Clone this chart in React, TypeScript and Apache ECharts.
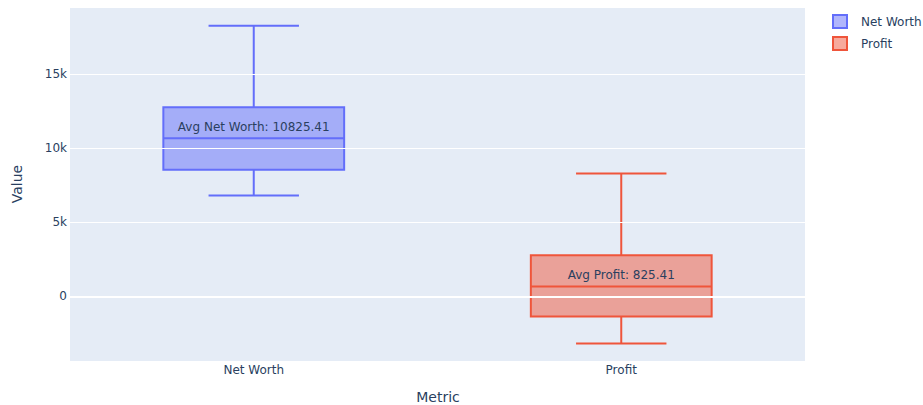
import React, { useEffect, useRef } from "react";
import * as echarts from "echarts";

const categories = ["Net Worth", "Profit"];
const lowerWhisker = [6800, -3190];
const q1 = [8550, -1370];
const median = [10665, 655];
const q3 = [12760, 2765];
const upperWhisker = [18270, 8285];
const means = [10825.41, 825.41];
const meanLabels = ["Avg Net Worth: 10825.41", "Avg Profit: 825.41"];
const yTicks = [0, 5000, 10000, 15000];
const yTickLabels = ["0", "5k", "10k", "15k"];
const lineColors = ["#636efa", "#EF553B"];
const fillColors = ["rgba(99,110,250,0.5)", "rgba(239,85,59,0.5)"];

const FONT = "'DejaVu Sans', Verdana, sans-serif";
const TXT = "#2a3f5f";

export default function App() {
  const ref = useRef<HTMLDivElement>(null);
  useEffect(() => {
    document.body.style.margin = "0";
    const chart = echarts.init(ref.current!, null, { renderer: "svg" });
    const boxSeries = categories.map((name, i) => ({
      type: "custom",
      name,
      z: 3,
      encode: { x: 0, y: [1, 2, 3, 4, 5] },
      itemStyle: { color: fillColors[i], borderColor: lineColors[i] },
      data: [[i, lowerWhisker[i], q1[i], median[i], q3[i], upperWhisker[i], means[i]]],
      renderItem: (params: any, api: any) => {
        const xi = api.value(0);
        const [cx, yLow] = api.coord([xi, api.value(1)]);
        const yQ1 = api.coord([xi, api.value(2)])[1];
        const yMed = api.coord([xi, api.value(3)])[1];
        const yQ3 = api.coord([xi, api.value(4)])[1];
        const yHigh = api.coord([xi, api.value(5)])[1];
        const yMean = api.coord([xi, api.value(6)])[1];
        const bw = api.size([1, 0])[0] * 0.492;
        const cw = bw / 2;
        const stroke = lineColors[i];
        const ls = { stroke, lineWidth: 2 };
        return {
          type: "group",
          children: [
            { type: "line", shape: { x1: cx, y1: yQ3, x2: cx, y2: yHigh }, style: ls },
            { type: "line", shape: { x1: cx, y1: yQ1, x2: cx, y2: yLow }, style: ls },
            { type: "line", shape: { x1: cx - cw / 2, y1: yHigh, x2: cx + cw / 2, y2: yHigh }, style: ls },
            { type: "line", shape: { x1: cx - cw / 2, y1: yLow, x2: cx + cw / 2, y2: yLow }, style: ls },
            {
              type: "rect",
              shape: { x: cx - bw / 2, y: yQ3, width: bw, height: yQ1 - yQ3 },
              style: { fill: fillColors[i], stroke, lineWidth: 2 },
            },
            { type: "line", shape: { x1: cx - bw / 2, y1: yMed, x2: cx + bw / 2, y2: yMed }, style: ls },
            {
              type: "text",
              x: cx,
              y: yMean - 3,
              style: {
                text: meanLabels[i],
                fill: TXT,
                font: `12px ${FONT}`,
                align: "center",
                verticalAlign: "bottom",
              },
            },
          ],
        };
      },
    }));

    chart.setOption({
      animation: false,
      grid: {
        left: 70,
        right: 118,
        top: 8,
        bottom: 44,
        show: true,
        backgroundColor: "#e5ecf6",
        borderWidth: 0,
      },
      legend: {
        orient: "vertical",
        left: 832,
        top: 9,
        padding: [5, 0, 5, 0],
        itemWidth: 14,
        itemHeight: 13,
        itemGap: 7,
        textStyle: { color: TXT, fontSize: 12, fontFamily: FONT, padding: [0, 0, 0, 9] },
        data: categories.map((name, i) => ({
          name,
          icon: "rect",
          itemStyle: { color: fillColors[i], borderColor: lineColors[i], borderWidth: 2 },
        })),
      },
      xAxis: {
        type: "category",
        data: categories,
        boundaryGap: true,
        axisLine: { show: false },
        axisTick: { show: false },
        splitLine: { show: false },
        axisLabel: { color: TXT, fontSize: 12, fontFamily: FONT, margin: 3 },
      },
      yAxis: {
        type: "value",
        min: -4367,
        max: 19460,
        axisLine: { show: false },
        axisTick: { show: false },
        splitLine: { show: false },
        axisLabel: {
          color: TXT,
          fontSize: 12,
          fontFamily: FONT,
          margin: 3,
          customValues: yTicks,
          formatter: (v: number) => {
            const k = yTicks.indexOf(v);
            return k >= 0 ? yTickLabels[k] : "";
          },
        },
      },
      graphic: [
        {
          type: "text",
          x: 17,
          y: 184,
          rotation: Math.PI / 2,
          style: { text: "Value", fill: TXT, font: `14px ${FONT}`, align: "center", verticalAlign: "middle" },
        },
        {
          type: "text",
          x: 438,
          y: 397,
          style: { text: "Metric", fill: TXT, font: `14px ${FONT}`, align: "center", verticalAlign: "middle" },
        },
      ],
      series: [
        {
          type: "line",
          name: "grid",
          z: 1,
          data: [],
          silent: true,
          markLine: {
            silent: true,
            symbol: "none",
            label: { show: false },
            data: yTicks.map((v) => ({
              yAxis: v,
              lineStyle: { color: "#ffffff", width: v === 0 ? 2 : 1, type: "solid" },
            })),
          },
        },
        ...boxSeries,
      ],
    } as any);
    return () => chart.dispose();
  }, []);
  return <div ref={ref} style={{ width: 923, height: 405 }} />;
}
